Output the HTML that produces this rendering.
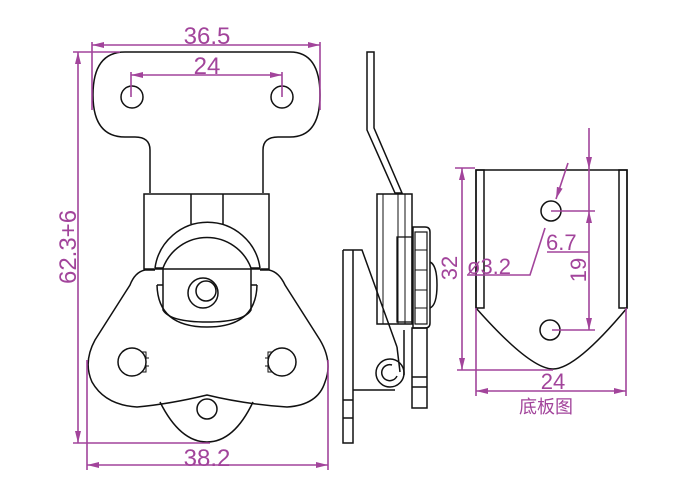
<!DOCTYPE html>
<html><head><meta charset="utf-8"><style>
html,body{margin:0;padding:0;background:#fff;width:700px;height:500px;overflow:hidden}
svg{display:block}
text{font-family:"Liberation Sans","Noto Sans CJK SC",sans-serif;fill:#a2449b}
</style></head><body>
<svg width="700" height="500" viewBox="0 0 700 500" xmlns="http://www.w3.org/2000/svg">
<defs>
<marker id="a" viewBox="0 0 12 6" refX="12" refY="3" markerWidth="12" markerHeight="6" orient="auto-start-reverse" markerUnits="userSpaceOnUse"><path d="M0,0 L12,3 L0,6 Z" fill="#a2449b"/></marker>
</defs>
<g fill="none" stroke="#111" stroke-width="1.5">
<!-- top plate -->
<path d="M150,193 L150,150 Q150,137 135,137 L125,137 Q93,137 93,95 Q93,52 125,52 L290,52 Q320,52 320,95 Q320,137 290,137 L278,137 Q263,137 263,150 L263,193"/>
<circle cx="132" cy="97" r="11"/><circle cx="282" cy="97" r="11"/>
<!-- hinge block -->
<rect x="144" y="194" width="125" height="75" fill="#fff"/>
<line x1="191" y1="194" x2="191" y2="224"/><line x1="223" y1="194" x2="223" y2="224"/>
<!-- body -->
<path d="M145,270 Q135,272 130,285 L95,340 Q83,362 92,382 Q105,405 137,407 Q170,404 207,395 Q244,404 287,407 Q318,405 325,382 Q333,362 320,340 L285,285 Q279,272 269,270 Z" fill="#fff" stroke="none"/>
<path d="M155,270 L145,270 Q135,272 130,285 L95,340 Q83,362 92,382 Q105,405 137,407 Q170,404 207,395 Q244,404 287,407 Q318,405 325,382 Q333,362 320,340 L285,285 Q279,272 269,270 L260,270"/>
<path d="M160,402 Q180,442 207,442 Q234,442 253,402"/>
<circle cx="207" cy="409" r="10"/>
<circle cx="132" cy="362" r="14"/><circle cx="282" cy="362" r="14"/>
<path d="M142,352 L146,352 L146,372 L142,372 M146,358 L149,358 M146,366 L149,366" stroke-width="1"/>
<path d="M272,352 L268,352 L268,372 L272,372 M268,358 L265,358 M268,366 L265,366" stroke-width="1"/>
<!-- cam -->
<path d="M155,268 A53,53 0 0 1 260,268" fill="#fff"/>
<path d="M163,268 A47,47 0 0 1 251,268"/>
<path d="M157,285 L163,285 M251,285 L257,285 M157,285 Q158,327 207,327 Q256,327 257,285"/>
<path d="M163,268 L163,310 Q170,322 207,322 Q244,322 251,310 L251,268"/>
<line x1="155" y1="268" x2="163" y2="268"/><line x1="251" y1="268" x2="260" y2="268"/>
<circle cx="203" cy="293" r="15"/><circle cx="206" cy="291" r="10"/>
<!-- side view -->
<path d="M367,52 L374,52 L374,128 L402,193 L395,193 L367,130 Z"/>
<rect x="377" y="194" width="35" height="130"/>
<line x1="383" y1="194" x2="383" y2="324" stroke-width="1"/>
<line x1="398" y1="194" x2="398" y2="324" stroke-width="1"/>
<line x1="405" y1="194" x2="405" y2="324" stroke-width="1"/>
<rect x="397" y="237" width="15" height="85" stroke-width="1.3"/>
<path d="M413,227 L425,227 Q430,227 430,232 L430,323 Q430,328 425,328 L413,328 Z" fill="#fff"/>
<rect x="415" y="232" width="12" height="92" stroke-width="1.2"/>
<path d="M415,250 L427,250 M415,270 L427,270 M415,290 L427,290 M415,308 L427,308" stroke-width="1"/>
<path d="M430,262 Q437,265 437,285 Q437,305 430,308"/>
<path d="M343,250 L362,250 L397,347 M343,250 L343,443 L353,443 L353,250 M353,390 L395,390 M343,400 L353,400 M343,418 L353,418"/>
<circle cx="390" cy="373" r="14"/><path d="M392,365 A8,8 0 1 0 397,376"/>
<path d="M397,347 L400,372 M404,330 L404,375"/>
<rect x="412" y="328" width="15" height="80"/>
<line x1="412" y1="377" x2="427" y2="377"/><line x1="412" y1="387" x2="427" y2="387"/>
<!-- bottom plate -->
<path d="M476,308 L476,170 L627,170 L627,308"/>
<rect x="476" y="170" width="8" height="138"/><rect x="619" y="170" width="8" height="138"/>
<path d="M476,308 Q530,369 553,369 Q576,369 627,308"/>
<circle cx="551" cy="211" r="10"/><circle cx="550" cy="330" r="10"/>
</g>
<g stroke="#a2449b" stroke-width="1.6" fill="none">
<line x1="92" y1="42" x2="92" y2="110"/><line x1="320" y1="42" x2="320" y2="110"/>
<line x1="92" y1="45" x2="320" y2="45" marker-start="url(#a)" marker-end="url(#a)"/>
<line x1="131" y1="72" x2="131" y2="97"/><line x1="282" y1="72" x2="282" y2="97"/>
<line x1="131" y1="75" x2="282" y2="75" marker-start="url(#a)" marker-end="url(#a)"/>
<line x1="73" y1="52" x2="120" y2="52"/><line x1="73" y1="443" x2="210" y2="443"/>
<line x1="78" y1="52" x2="78" y2="443" marker-start="url(#a)" marker-end="url(#a)"/>
<line x1="87" y1="360" x2="87" y2="470"/><line x1="328" y1="360" x2="328" y2="470"/>
<line x1="87" y1="465" x2="328" y2="465" marker-start="url(#a)" marker-end="url(#a)"/>
<line x1="455" y1="168" x2="475" y2="168"/><line x1="457" y1="370" x2="553" y2="370"/>
<line x1="462" y1="168" x2="462" y2="370" marker-start="url(#a)" marker-end="url(#a)"/>
<line x1="476" y1="308" x2="476" y2="396"/><line x1="626" y1="308" x2="626" y2="396"/>
<line x1="476" y1="391" x2="626" y2="391" marker-start="url(#a)" marker-end="url(#a)"/>
<line x1="589" y1="128" x2="589" y2="169" marker-end="url(#a)"/>
<line x1="589" y1="169" x2="589" y2="211"/>
<line x1="551" y1="211" x2="595" y2="211"/><line x1="552" y1="330" x2="595" y2="330"/>
<line x1="589" y1="211" x2="589" y2="330" marker-start="url(#a)" marker-end="url(#a)"/>
<line x1="547" y1="252" x2="589" y2="252"/>
<line x1="568" y1="163" x2="556" y2="199" marker-end="url(#a)"/>
<path d="M545,228 L530,275 L467,275"/>
</g>
<text x="207" y="44" font-size="24" text-anchor="middle">36.5</text>
<text x="207" y="74" font-size="24" text-anchor="middle">24</text>
<text x="207" y="466" font-size="24" text-anchor="middle">38.2</text>
<text transform="translate(76,247) rotate(-90)" font-size="24" text-anchor="middle">62.3+6</text>
<text transform="translate(457,268) rotate(-90)" font-size="22" text-anchor="middle">32</text>
<text x="467" y="274" font-size="22">ø3.2</text>
<text x="546" y="250" font-size="22">6.7</text>
<text transform="translate(586,270) rotate(-90)" font-size="22" text-anchor="middle">19</text>
<text x="553" y="389" font-size="22" text-anchor="middle">24</text>
<text x="546" y="413" font-size="18" text-anchor="middle">底板图</text>
</svg>
</body></html>
